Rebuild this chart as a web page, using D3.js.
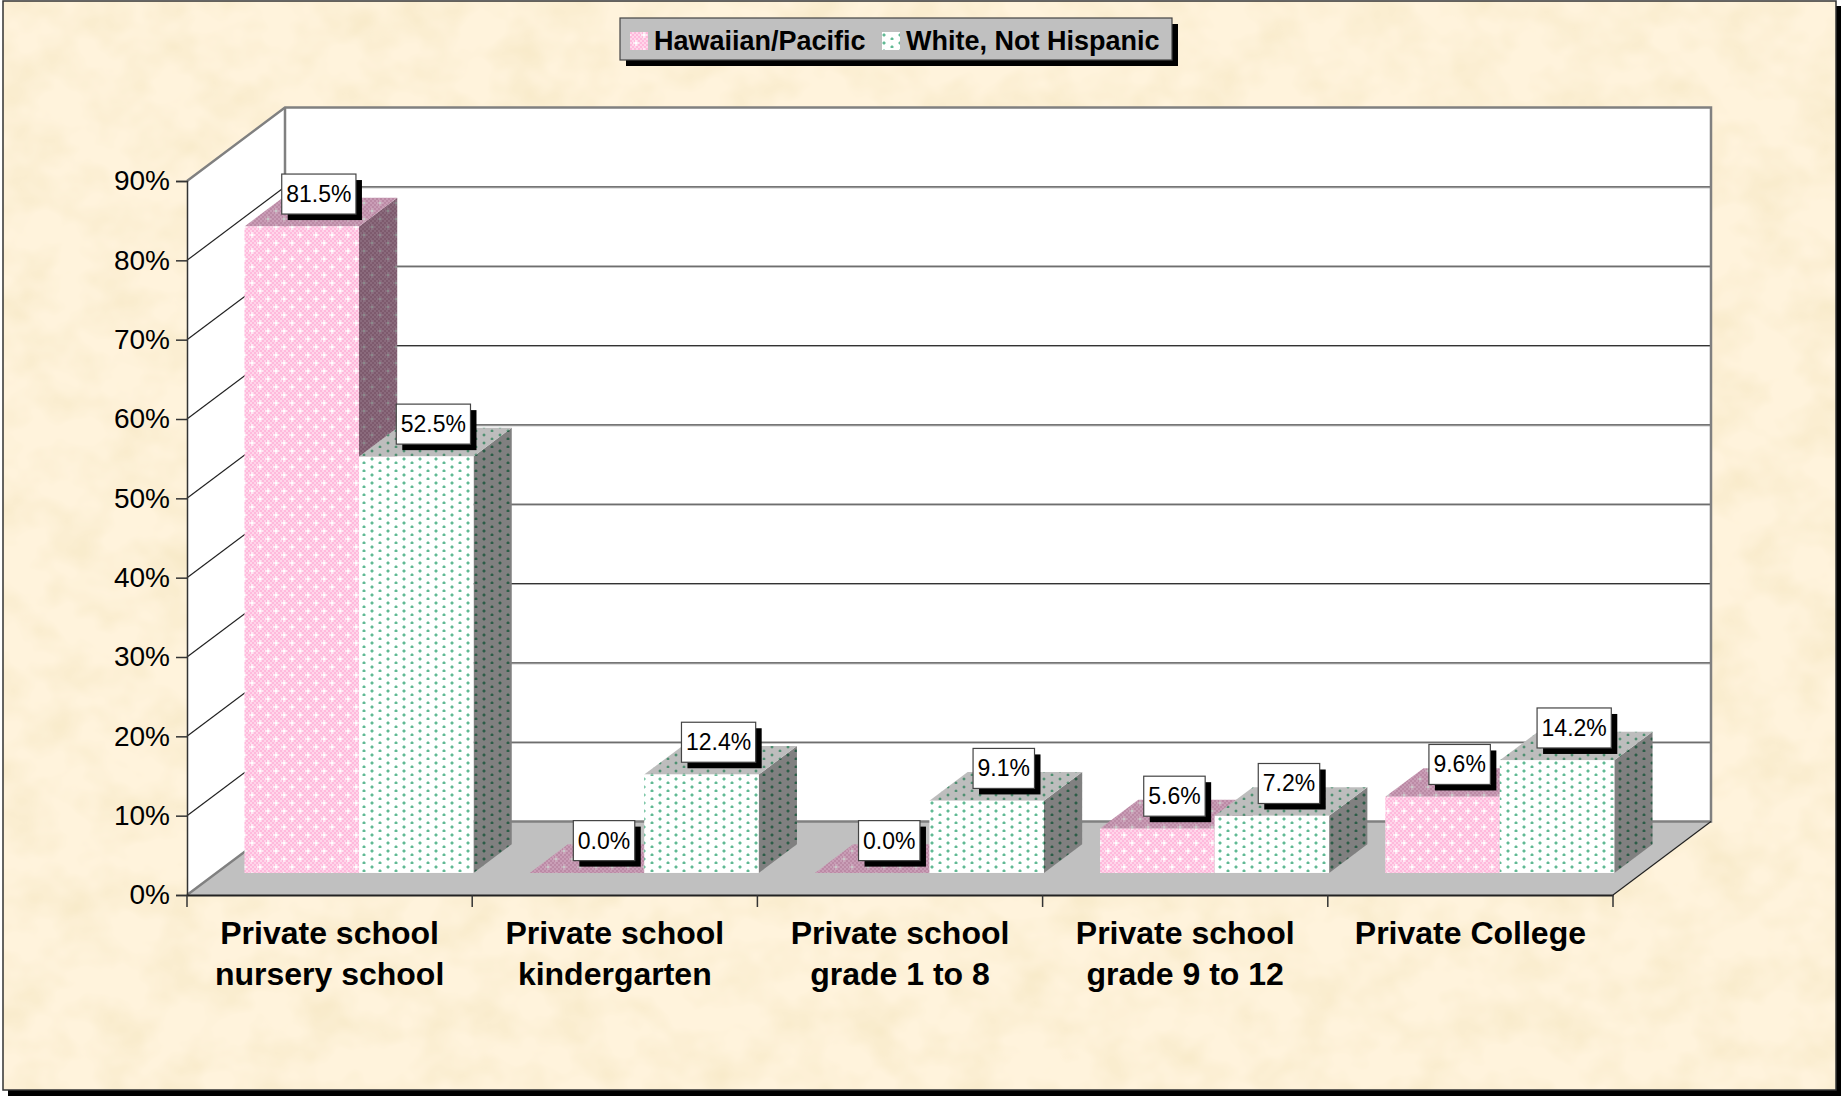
<!DOCTYPE html>
<html>
<head>
<meta charset="utf-8">
<script src="https://cdn.jsdelivr.net/npm/d3@7"></script>
<style>
  html, body { margin: 0; padding: 0; background: #fff; }
  svg { display: block; font-family: "Liberation Sans", Arial, sans-serif; }
</style>
</head>
<body>
<svg id="chart" width="1841" height="1096"></svg>
<script>
const categories = [
  ["Private school", "nursery school"],
  ["Private school", "kindergarten"],
  ["Private school", "grade 1 to 8"],
  ["Private school", "grade 9 to 12"],
  ["Private College"]
];
const seriesNames = ["Hawaiian/Pacific", "White, Not Hispanic"];
const hawaiianValues = [81.5, 0.0, 0.0, 5.6, 9.6];
const whiteValues = [52.5, 12.4, 9.1, 7.2, 14.2];
const yTicks = [0, 10, 20, 30, 40, 50, 60, 70, 80, 90];

const svg = d3.select("#chart");
const defs = svg.append("defs");

// plot geometry
const frontLeft = 187, frontRight = 1613, frontBottom = 895, frontTop = 181;
const depthX = 98, depthY = 73.5;
const barDepth = 0.39, barStart = 0.30;

const x = d3.scaleBand().domain(d3.range(categories.length)).range([frontLeft, frontRight]);
const y = d3.scaleLinear().domain([0, 90]).range([frontBottom, frontTop]);
const inner = d3.scaleBand().domain([0, 1]).range([0, x.bandwidth()]).paddingOuter(0.245).paddingInner(0);

// project category position + value + depth (0 front, 1 back) to the page
const px = (sx, d) => sx + d * depthX;
const py = (v, d) => y(v) - d * depthY;

/**
 * Dotted fills
 */
function dotPattern(id, colors) {
  const p = defs.append("pattern").attr("id", id)
    .attr("patternUnits", "userSpaceOnUse").attr("width", 16).attr("height", colors.tall);
  p.append("rect").attr("width", 16).attr("height", colors.tall).attr("fill", colors.bg);
  if (colors.check) {
    for (let i = 0; i < 8; i++) {
      for (let j = 0; j < colors.tall / 2; j++) {
        if ((i + j) % 2 === 0) {
          p.append("rect").attr("x", i * 2).attr("y", j * 2).attr("width", 2).attr("height", 2).attr("fill", colors.check);
        }
      }
    }
  }
  [[3, 2], [11, 2 + colors.tall / 2]].forEach(([a, b]) => {
    if (colors.halo) {
      p.append("rect").attr("x", a - 1).attr("y", b).attr("width", 4).attr("height", 2).attr("fill", colors.halo);
      p.append("rect").attr("x", a).attr("y", b - 1).attr("width", 2).attr("height", 4).attr("fill", colors.halo);
    }
    if (colors.spark) {
      p.append("rect").attr("x", a - 2).attr("y", b).attr("width", 6).attr("height", 2).attr("fill", colors.spark);
      p.append("rect").attr("x", a).attr("y", b - 2).attr("width", 2).attr("height", 6).attr("fill", colors.spark);
    }
    p.append("rect").attr("x", a).attr("y", b).attr("width", 2).attr("height", 2).attr("fill", colors.dot);
  });
}

dotPattern("pinkFront", { tall: 16, bg: "#ffb9dc", check: "#ffd6ea", dot: "#ffffff", spark: "#ffe9f4" });
dotPattern("pinkTop", { tall: 16, bg: "#bb8aa5", check: "#c99db6", dot: "#c8c8c8", spark: "#c9a8ba" });
dotPattern("pinkSide", { tall: 16, bg: "#7d5a6d", check: "#8a6a7c", dot: "#8a8a8a", spark: "#8a7080" });
dotPattern("whiteFront", { tall: 8, bg: "#ffffff", dot: "#62b894", halo: "#b6e2cf" });
dotPattern("whiteTop", { tall: 8, bg: "#bdbdbd", dot: "#4f8f72", halo: "#9cb0a6" });
dotPattern("whiteSide", { tall: 8, bg: "#808080", dot: "#2c5c48", halo: "#5f7268" });

// parchment background
const paper = defs.append("filter").attr("id", "paper")
  .attr("x", 0).attr("y", 0).attr("width", "100%").attr("height", "100%");
paper.append("feTurbulence").attr("type", "fractalNoise")
  .attr("baseFrequency", "0.02 0.024").attr("numOctaves", 3).attr("seed", 7);
paper.append("feColorMatrix").attr("type", "matrix")
  .attr("values", "0 0 0 0 0.88  0 0 0 0 0.76  0 0 0 0 0.48  1.0 0 0 0 -0.38");

/**
 * Frame
 */
svg.append("rect").attr("x", 8).attr("y", 6).attr("width", 1833).attr("height", 1090).attr("fill", "#000");
svg.append("rect").attr("x", 3).attr("y", 1).attr("width", 1833).attr("height", 1089).attr("fill", "#fff3dc");
svg.append("rect").attr("x", 3).attr("y", 1).attr("width", 1833).attr("height", 1089).attr("filter", "url(#paper)");
svg.append("rect").attr("x", 3).attr("y", 1).attr("width", 1833).attr("height", 1089)
  .attr("fill", "none").attr("stroke", "#333").attr("stroke-width", 1.5);

/**
 * Walls and floor
 */
const polygon = (pts) => "M" + pts.map((p) => p.join(",")).join("L") + "Z";
const walls = svg.append("g");

walls.append("path").attr("fill", "#fff").attr("d", polygon([
  [frontLeft, y(90)], [px(frontLeft, 1), py(90, 1)], [px(frontRight, 1), py(90, 1)],
  [px(frontRight, 1), py(0, 1)], [px(frontLeft, 1), py(0, 1)], [frontLeft, y(0)]
]));

const grid = walls.append("g");
yTicks.slice(1, -1).forEach((t) => {
  grid.append("line").attr("x1", px(frontLeft, 1)).attr("x2", px(frontRight, 1))
    .attr("y1", py(t, 1) + 1).attr("y2", py(t, 1) + 1).attr("stroke", "#aaa").attr("stroke-width", 1);
  grid.append("line").attr("x1", px(frontLeft, 1)).attr("x2", px(frontRight, 1))
    .attr("y1", py(t, 1)).attr("y2", py(t, 1)).attr("stroke", "#333").attr("stroke-width", 1);
  grid.append("line").attr("x1", frontLeft).attr("x2", px(frontLeft, 1))
    .attr("y1", y(t)).attr("y2", py(t, 1)).attr("stroke", "#222").attr("stroke-width", 1.2);
});

walls.append("path").attr("fill", "#c0c0c0").attr("d", polygon([
  [frontLeft, y(0)], [px(frontLeft, 1), py(0, 1)], [px(frontRight, 1), py(0, 1)], [frontRight, y(0)]
]));

// grey outline of the walls
walls.append("path").attr("fill", "none").attr("stroke", "#808080").attr("stroke-width", 2.5)
  .attr("d", "M" + frontLeft + "," + y(90)
    + "L" + px(frontLeft, 1) + "," + py(90, 1)
    + "L" + px(frontRight, 1) + "," + py(90, 1)
    + "L" + px(frontRight, 1) + "," + py(0, 1)
    + "L" + px(frontLeft, 1) + "," + py(0, 1)
    + "L" + frontLeft + "," + y(0));
walls.append("line").attr("x1", px(frontLeft, 1)).attr("x2", px(frontLeft, 1))
  .attr("y1", py(90, 1)).attr("y2", py(0, 1)).attr("stroke", "#808080").attr("stroke-width", 2.5);
walls.append("line").attr("x1", frontRight).attr("x2", px(frontRight, 1))
  .attr("y1", y(0)).attr("y2", py(0, 1)).attr("stroke", "#222").attr("stroke-width", 1.2);

/**
 * Bars
 */
function drawBar(g, left, width, value, names) {
  const d0 = barStart, d1 = barStart + barDepth;
  const x0 = px(left, d0), x1 = px(left + width, d0);
  const dx = (d1 - d0) * depthX;
  const yTop = py(value, d0), yBase = py(0, d0), dy = (d1 - d0) * depthY;
  if (value > 0) {
    g.append("path").attr("fill", "url(#" + names + "Side)").attr("d", polygon([
      [x1, yTop], [x1 + dx, yTop - dy], [x1 + dx, yBase - dy], [x1, yBase]
    ]));
  }
  g.append("path").attr("fill", "url(#" + names + "Top)").attr("d", polygon([
    [x0, yTop], [x0 + dx, yTop - dy], [x1 + dx, yTop - dy], [x1, yTop]
  ]));
  g.append("rect").attr("x", x0).attr("y", yTop).attr("width", x1 - x0).attr("height", yBase - yTop)
    .attr("fill", "url(#" + names + "Front)");
}

const bars = svg.append("g");
categories.forEach((c, i) => {
  const g = bars.append("g");
  drawBar(g, x(i) + inner(0), inner.bandwidth(), hawaiianValues[i], "pink");
  drawBar(g, x(i) + inner(1), inner.bandwidth(), whiteValues[i], "white");
});

/**
 * Axes
 */
const yAxis = svg.append("g").attr("transform", "translate(" + frontLeft + ",0)")
  .call(d3.axisLeft(y).tickValues(yTicks).tickFormat((d) => d + "%").tickSize(11).tickPadding(6));
yAxis.select(".domain").attr("stroke", "#333").attr("stroke-width", 1.5);
yAxis.selectAll(".tick line").attr("stroke", "#333").attr("stroke-width", 1.5);
yAxis.selectAll("text").attr("font-family", "Liberation Sans").attr("font-size", 28).attr("fill", "#000");

const xAxis = svg.append("g").attr("transform", "translate(0," + frontBottom + ")")
  .call(d3.axisBottom(x).tickSize(0).tickFormat(""));
xAxis.select(".domain").attr("stroke", "#222").attr("stroke-width", 2);

// ticks sit on the category edges
svg.append("g").selectAll("line").data(d3.range(categories.length + 1)).enter().append("line")
  .attr("x1", (d) => frontLeft + d * x.step()).attr("x2", (d) => frontLeft + d * x.step())
  .attr("y1", frontBottom).attr("y2", frontBottom + 12)
  .attr("stroke", "#333").attr("stroke-width", 1.5);

const catLabels = svg.append("g").selectAll("text").data(categories).enter().append("text")
  .attr("text-anchor", "middle").attr("font-weight", "bold").attr("font-size", 32).attr("fill", "#000");
catLabels.each(function (lines, i) {
  d3.select(this).selectAll("tspan").data(lines).enter().append("tspan")
    .attr("x", x(i) + x.bandwidth() / 2)
    .attr("y", (d, j) => 944 + j * 41)
    .text((d) => d);
});

/**
 * Data labels
 */
const labels = svg.append("g");
function drawLabel(left, width, value) {
  const cx = px(left + width / 2, barStart) + (barDepth * depthX) / 2 - 2;
  const cy = py(value, barStart) - (barDepth * depthY) / 2 - 18;
  const g = labels.append("g");
  const t = g.append("text").attr("x", cx).attr("y", cy + 8).attr("text-anchor", "middle")
    .attr("font-size", 23).attr("fill", "#000").text(value.toFixed(1) + "%");
  const w = t.node().getComputedTextLength() + 9;
  g.insert("rect", "text").attr("x", cx - w / 2 + 6).attr("y", cy - 20 + 6).attr("width", w).attr("height", 40).attr("fill", "#000");
  g.insert("rect", "text").attr("x", cx - w / 2).attr("y", cy - 20).attr("width", w).attr("height", 40)
    .attr("fill", "#fff").attr("stroke", "#444").attr("stroke-width", 1.2);
}
categories.forEach((c, i) => {
  drawLabel(x(i) + inner(0), inner.bandwidth(), hawaiianValues[i]);
  drawLabel(x(i) + inner(1), inner.bandwidth(), whiteValues[i]);
});

/**
 * Legend
 */
const legend = svg.append("g");
legend.append("rect").attr("x", 626).attr("y", 24).attr("width", 552).attr("height", 42).attr("fill", "#000");
legend.append("rect").attr("x", 620).attr("y", 18).attr("width", 552).attr("height", 42)
  .attr("fill", "#c0c0c0").attr("stroke", "#444").attr("stroke-width", 1.2);
const legendX = d3.scaleOrdinal().domain(seriesNames).range([630, 882]);
const legendFill = d3.scaleOrdinal().domain(seriesNames).range(["url(#pinkFront)", "url(#whiteFront)"]);
seriesNames.forEach((name) => {
  legend.append("rect").attr("x", legendX(name)).attr("y", 32).attr("width", 18).attr("height", 18)
    .attr("fill", legendFill(name));
  legend.append("text").attr("x", legendX(name) + 24).attr("y", 50)
    .attr("font-weight", "bold").attr("font-size", 27).attr("fill", "#000").text(name);
});
</script>
</body>
</html>
